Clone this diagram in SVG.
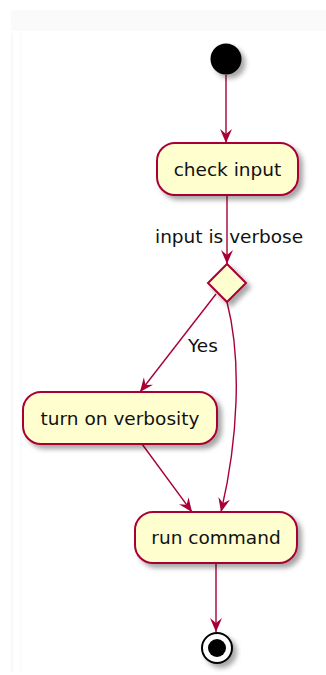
<svg xmlns="http://www.w3.org/2000/svg" width="326" height="675" viewBox="0 0 326 675">
<defs>
<style>
.box{fill:#FEFECE;stroke:#A80036;stroke-width:2;}
.edge{fill:none;stroke:#A80036;stroke-width:1.4;}
.lbl{font-family:"DejaVu Sans",sans-serif;font-size:18.5px;fill:#111;}
.c{text-anchor:middle;}
</style>
<filter id="sh" x="-20%" y="-20%" width="150%" height="160%">
<feDropShadow dx="4" dy="4" stdDeviation="2.5" flood-color="#000" flood-opacity="0.35"/>
</filter>
<marker id="arr" viewBox="0 0 14 12" refX="14" refY="6" markerWidth="14" markerHeight="12" markerUnits="userSpaceOnUse" orient="auto">
<path d="M14,6 L0,0 L5,6 L0,12 Z" fill="#A80036"/>
</marker>
</defs>
<rect width="326" height="675" fill="#fff"/>
<rect x="11" y="10" width="315" height="21" fill="#fafafa"/>
<line x1="12" y1="33" x2="12" y2="672" stroke="#f2f2f2" stroke-width="1"/>
<line x1="21" y1="33" x2="21" y2="672" stroke="#f7f7f7" stroke-width="1"/>
<g id="connectors">
<line class="edge" x1="226" y1="75" x2="226" y2="143" marker-end="url(#arr)"/>
<line class="edge" x1="227" y1="195" x2="227" y2="264" marker-end="url(#arr)"/>
<line class="edge" x1="216" y1="294" x2="140" y2="392" marker-end="url(#arr)"/>
<path class="edge" d="M227,302 C242,360 238,440 221,512" marker-end="url(#arr)"/>
<line class="edge" x1="142" y1="444" x2="192" y2="512" marker-end="url(#arr)"/>
<line class="edge" x1="216" y1="563" x2="216" y2="632" marker-end="url(#arr)"/>
<text class="lbl" x="155" y="243">input is verbose</text>
<text class="lbl" x="188" y="352">Yes</text>
</g>
<g id="start">
<circle cx="226" cy="59" r="15.5" fill="#000" filter="url(#sh)"/>
</g>
<g id="check_input">
<rect class="box" x="157" y="143" width="141" height="52" rx="18" filter="url(#sh)"/>
<text class="lbl c" x="227.5" y="175.5">check input</text>
</g>
<g id="decision">
<polygon class="box" points="227,264 246,283 227,302 208,283" filter="url(#sh)"/>
</g>
<g id="turn_on_verbosity">
<rect class="box" x="23" y="392" width="194" height="52" rx="18" filter="url(#sh)"/>
<text class="lbl c" x="120" y="424.5">turn on verbosity</text>
</g>
<g id="run_command">
<rect class="box" x="135" y="512" width="162" height="51" rx="18" filter="url(#sh)"/>
<text class="lbl c" x="216" y="543.5">run command</text>
</g>
<g id="end">
<circle cx="217" cy="648" r="15" fill="#fff" stroke="#000" stroke-width="2" filter="url(#sh)"/>
<circle cx="217" cy="648" r="9" fill="#000"/>
</g>
</svg>
